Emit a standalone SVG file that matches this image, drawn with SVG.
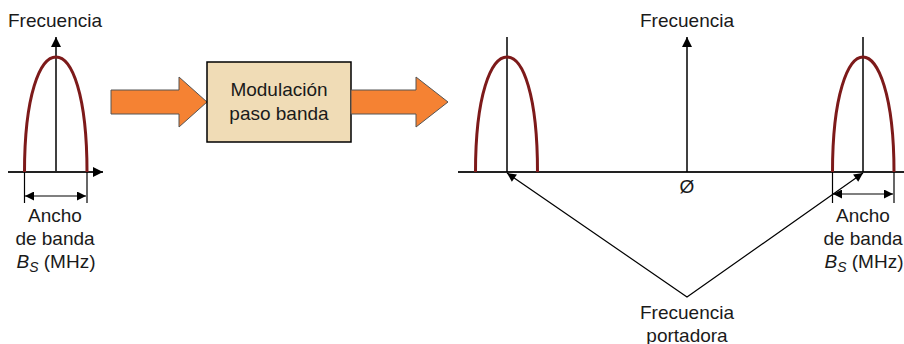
<svg xmlns="http://www.w3.org/2000/svg" width="904" height="344" viewBox="0 0 904 344">
<style>
text{font-family:"Liberation Sans",Arial,sans-serif;font-size:19px;fill:#1a1a1a}
.ax{stroke:#000;stroke-width:1.5;fill:none}
.hx{stroke:#222;stroke-width:2;fill:none}
.band{stroke:#7d1a1a;stroke-width:3;fill:none}
.dim{stroke:#000;stroke-width:1.2;fill:none}
.orange{fill:#f58233;stroke:#555;stroke-width:1}
</style>
<defs>
<marker id="ah" viewBox="0 0 10 10" refX="10" refY="5" markerWidth="10" markerHeight="10" markerUnits="userSpaceOnUse" orient="auto-start-reverse">
<path d="M0,0 L10,5 L0,10 Z" fill="#000"/>
</marker>
<marker id="ahs" viewBox="0 0 10 10" refX="10" refY="5" markerWidth="11" markerHeight="9" markerUnits="userSpaceOnUse" orient="auto-start-reverse">
<path d="M0,0 L10,5 L0,10 Z" fill="#000"/>
</marker>
</defs>

<g id="left-spectrum">
<text x="55" y="27" text-anchor="middle">Frecuencia</text>
<line class="ax" x1="56" y1="172" x2="56" y2="37" marker-end="url(#ah)"/>
<line class="hx" x1="8" y1="172" x2="103" y2="172" marker-end="url(#ah)"/>
<path class="band" d="M24.5 172 C24.5 95 40 57 56 57 C72 57 87 95 87 172"/>
<line class="dim" x1="24.5" y1="172" x2="24.5" y2="203"/>
<line class="dim" x1="87" y1="172" x2="87" y2="203"/>
<line class="dim" x1="25" y1="196" x2="86" y2="196" marker-start="url(#ahs)" marker-end="url(#ahs)"/>
<text x="55" y="222" text-anchor="middle">Ancho</text>
<text x="55" y="245" text-anchor="middle">de banda</text>
<text x="56" y="268" text-anchor="middle"><tspan font-style="italic">B</tspan><tspan font-style="italic" font-size="14" dy="4">S</tspan><tspan dy="-4"> (MHz)</tspan></text>
</g>

<g id="arrow-in">
<path class="orange" d="M111 90 H179 V77 L207 102 L179 127 V114 H111 Z"/>
</g>

<g id="modulator">
<rect x="207" y="62" width="144" height="80" fill="#f0dcb6" stroke="#000" stroke-width="1.5"/>
<text x="279" y="96" text-anchor="middle">Modulación</text>
<text x="279" y="120" text-anchor="middle">paso banda</text>
</g>

<g id="arrow-out">
<path class="orange" d="M351 90 H416 V77 L448 102 L416 127 V114 H351 Z"/>
</g>

<g id="right-spectrum">
<line class="hx" x1="458" y1="172" x2="904" y2="172"/>
<line class="ax" x1="687" y1="172" x2="687" y2="37" marker-end="url(#ah)"/>
<text x="687" y="27" text-anchor="middle">Frecuencia</text>
<text x="687" y="193" text-anchor="middle">Ø</text>
<line class="ax" x1="507" y1="172" x2="507" y2="37"/>
<path class="band" d="M475.5 172 C475.5 95 491 57 507 57 C523 57 537.5 95 537.5 172"/>
<line class="ax" x1="863" y1="172" x2="863" y2="37"/>
<path class="band" d="M832.5 172 C832.5 95 848 57 863 57 C878 57 894 95 894 172"/>
<line class="dim" x1="832.5" y1="172" x2="832.5" y2="203"/>
<line class="dim" x1="894" y1="172" x2="894" y2="203"/>
<line class="dim" x1="833" y1="194" x2="893" y2="194" marker-start="url(#ahs)" marker-end="url(#ahs)"/>
<text x="863" y="222" text-anchor="middle">Ancho</text>
<text x="863" y="245" text-anchor="middle">de banda</text>
<text x="864" y="268" text-anchor="middle"><tspan font-style="italic">B</tspan><tspan font-style="italic" font-size="14" dy="4">S</tspan><tspan dy="-4"> (MHz)</tspan></text>
</g>

<g id="carrier-label">
<text x="687" y="319" text-anchor="middle">Frecuencia</text>
<text x="687" y="342" text-anchor="middle">portadora</text>
</g>

<g id="connectors">
<polyline class="dim" points="507,173 687,297 863,173" marker-start="url(#ahs)" marker-end="url(#ahs)"/>
</g>
</svg>
